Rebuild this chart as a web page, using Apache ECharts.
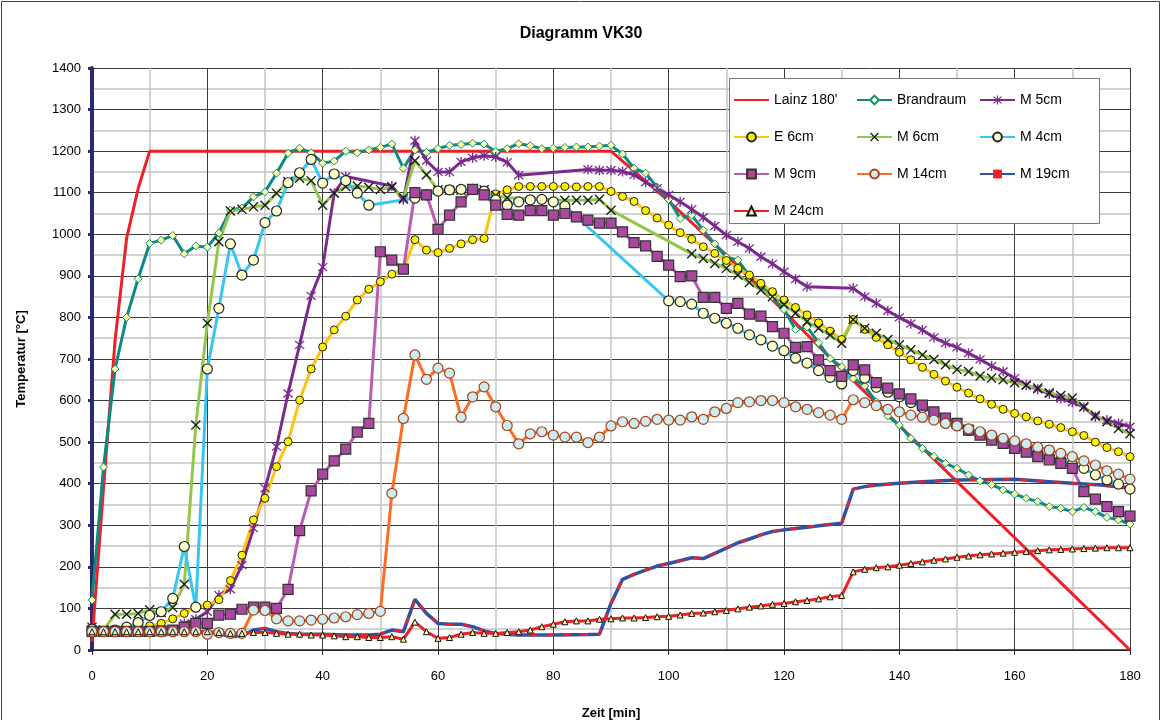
<!DOCTYPE html>
<html>
<head>
<meta charset="utf-8">
<script src="https://cdn.jsdelivr.net/npm/echarts@6/dist/echarts.min.js"></script>
<style>
html,body{margin:0;padding:0;background:#fff;}
#chart{width:1162px;height:720px;}
</style>
</head>
<body>
<div id="chart"></div>
<script>
// ---- data: [minute, °C] ----
const seriesNames = ["Lainz 180'", "Brandraum", "M 5cm", "E 6cm", "M 6cm", "M 4cm", "M 9cm", "M 14cm", "M 19cm", "M 24cm"];
const xTicks = [0, 20, 40, 60, 80, 100, 120, 140, 160, 180];
const yTicks = [0, 100, 200, 300, 400, 500, 600, 700, 800, 900, 1000, 1100, 1200, 1300, 1400];

const lainz = [[0,20],[2,390],[4,745],[6,990],[8,1110],[10,1200],[90,1200],[95,1140],[100,1080],[110,950],[120,815],[130,675],[140,540],[150,405],[160,270],[170,135],[180,0]];

const brandraum = [[0,120],[2,440],[4,676],[6,800],[8,893],[10,978],[12,986],[14,997],[16,953],[18,972],[20,969],[22,1003],[24,1058],[26,1063],[28,1090],[30,1102],[32,1147],[34,1195],[36,1207],[38,1196],[40,1171],[42,1176],[44,1200],[46,1196],[48,1203],[50,1209],[52,1217],[54,1159],[56,1203],[58,1197],[60,1206],[62,1214],[64,1216],[66,1219],[68,1217],[70,1199],[72,1206],[74,1218],[76,1213],[78,1206],[80,1207],[82,1209],[84,1210],[86,1210],[88,1212],[90,1214],[92,1193],[94,1159],[96,1147],[98,1113],[100,1084],[102,1038],[104,1046],[106,1010],[108,977],[110,945],[112,938],[114,900],[116,878],[118,850],[120,819],[122,771],[124,777],[126,739],[128,701],[130,681],[132,653],[134,635],[136,597],[138,563],[140,541],[142,509],[144,485],[146,466],[148,449],[150,437],[152,421],[154,407],[156,398],[158,385],[160,375],[162,365],[164,357],[166,345],[168,341],[170,333],[172,343],[174,333],[176,319],[178,313],[180,303]];

const m5 = [[0,50],[2,45],[4,45],[6,45],[8,45],[10,45],[12,46],[14,48],[16,64],[18,74],[20,92],[22,132],[24,146],[26,204],[28,293],[30,389],[32,489],[34,617],[36,734],[38,852],[40,921],[42,1099],[44,1139],[52,1116],[54,1083],[56,1225],[58,1177],[60,1150],[62,1150],[64,1174],[66,1184],[68,1189],[70,1186],[72,1173],[74,1142],[86,1156],[88,1154],[90,1154],[92,1151],[94,1143],[96,1125],[98,1111],[100,1095],[102,1078],[104,1060],[106,1041],[108,1020],[110,998],[112,982],[114,966],[116,946],[118,929],[120,910],[122,892],[124,874],[132,870],[134,850],[136,834],[138,816],[140,800],[142,785],[144,770],[146,752],[148,738],[150,728],[152,714],[154,699],[156,683],[158,670],[160,654],[162,637],[164,627],[166,616],[168,605],[170,596],[172,584],[174,561],[176,553],[178,545],[180,537]];

const e6 = [[0,45],[2,45],[4,45],[6,45],[8,46],[10,58],[12,64],[14,75],[16,88],[18,104],[20,108],[22,121],[24,167],[26,228],[28,313],[30,365],[32,441],[34,501],[36,601],[38,676],[40,729],[42,770],[44,803],[46,842],[48,868],[50,886],[52,904],[54,916],[56,987],[58,962],[60,956],[62,966],[64,977],[66,987],[68,990],[70,1097],[72,1107],[74,1115],[76,1115],[78,1115],[80,1115],[82,1115],[84,1114],[86,1115],[88,1115],[90,1103],[92,1091],[94,1079],[96,1057],[98,1039],[100,1022],[102,1004],[104,988],[106,970],[108,954],[110,937],[112,918],[114,902],[116,882],[118,862],[120,842],[122,824],[124,806],[126,787],[128,767],[130,747],[132,795],[134,771],[136,752],[138,734],[140,716],[142,698],[144,680],[146,663],[148,647],[150,632],[152,618],[154,604],[156,591],[158,579],[160,569],[162,561],[164,551],[166,543],[168,535],[170,525],[172,516],[174,500],[176,487],[178,477],[180,465]];

const m6 = [[0,55],[2,48],[4,86],[6,86],[8,88],[10,97],[12,90],[14,102],[16,158],[18,541],[20,786],[22,982],[24,1056],[26,1060],[28,1066],[30,1070],[32,1099],[34,1127],[36,1135],[38,1129],[40,1070],[42,1099],[44,1115],[46,1116],[48,1113],[50,1108],[52,1113],[54,1087],[56,1177],[58,1143],[60,1107],[62,1106],[64,1106],[66,1108],[68,1107],[70,1093],[72,1088],[82,1082],[84,1082],[86,1082],[88,1084],[90,1058],[104,953],[106,942],[108,930],[110,918],[112,902],[114,884],[116,866],[118,850],[120,832],[122,810],[124,790],[126,774],[128,758],[130,738],[132,795],[134,774],[136,762],[138,747],[140,734],[142,722],[144,710],[146,699],[148,686],[150,675],[152,670],[154,659],[156,654],[158,650],[160,643],[162,637],[164,630],[166,619],[168,612],[170,606],[172,585],[174,564],[176,549],[178,533],[180,520]];

const m4 = [[0,50],[2,45],[4,48],[6,55],[8,66],[10,83],[12,92],[14,124],[16,249],[18,103],[20,676],[22,822],[24,977],[26,902],[28,938],[30,1028],[32,1056],[34,1124],[36,1148],[38,1180],[40,1123],[42,1145],[44,1129],[46,1099],[48,1070],[56,1087],[58,1095],[60,1104],[62,1107],[64,1108],[66,1108],[68,1104],[70,1083],[72,1070],[74,1078],[76,1083],[78,1084],[80,1078],[82,1068],[100,840],[102,838],[104,832],[106,810],[108,798],[110,786],[112,774],[114,758],[116,746],[118,731],[120,720],[122,702],[124,690],[126,672],[128,656],[130,640],[132,672],[134,654],[136,632],[138,620],[140,609],[142,595],[144,583],[146,568],[148,553],[150,540],[152,528],[154,518],[156,510],[158,505],[160,497],[162,484],[164,474],[166,465],[168,457],[170,447],[172,437],[174,421],[176,409],[178,399],[180,387]];

const m9 = [[0,45],[2,45],[4,45],[6,45],[8,45],[10,45],[12,46],[14,48],[16,55],[18,64],[20,64],[22,84],[24,86],[26,98],[28,103],[30,103],[32,100],[34,146],[36,287],[38,383],[40,423],[42,455],[44,483],[46,524],[48,545],[50,958],[52,938],[54,916],[56,1100],[58,1095],[60,1012],[62,1046],[64,1078],[66,1108],[68,1095],[70,1070],[72,1048],[74,1046],[76,1057],[78,1057],[80,1046],[82,1050],[84,1042],[86,1034],[88,1027],[90,1027],[92,1006],[94,980],[96,972],[98,947],[100,926],[102,898],[104,900],[106,848],[108,848],[110,822],[112,834],[114,808],[116,803],[118,778],[120,762],[122,728],[124,730],[126,698],[128,672],[130,658],[132,686],[134,674],[136,643],[138,630],[140,616],[142,604],[144,589],[146,573],[148,558],[150,545],[152,529],[154,517],[156,505],[158,497],[160,485],[162,476],[164,465],[166,457],[168,449],[170,437],[172,381],[174,363],[176,345],[178,333],[180,322]];

const m14 = [[0,44],[2,44],[4,44],[6,44],[8,44],[10,44],[12,44],[14,44],[16,44],[18,44],[20,38],[22,42],[24,40],[26,40],[28,96],[30,95],[32,75],[34,70],[36,70],[38,72],[40,74],[42,77],[44,80],[46,85],[48,88],[50,93],[52,377],[54,557],[56,710],[58,651],[60,678],[62,666],[64,560],[66,609],[68,633],[70,585],[72,540],[74,496],[76,520],[78,525],[80,517],[82,512],[84,512],[86,499],[88,512],[90,539],[92,549],[94,545],[96,550],[98,555],[100,553],[102,553],[104,561],[106,555],[108,573],[110,581],[112,595],[114,597],[116,600],[118,600],[120,595],[122,585],[124,579],[126,571],[128,565],[130,555],[132,602],[134,595],[136,588],[138,579],[140,573],[142,565],[144,560],[146,553],[148,545],[150,539],[152,532],[154,525],[156,517],[158,509],[160,503],[162,496],[164,488],[166,481],[168,473],[170,465],[172,455],[174,445],[176,431],[178,423],[180,411]];

const m19 = [[0,46],[4,46],[8,46],[12,46],[16,45],[20,44],[22,40],[24,32],[26,34],[28,48],[30,52],[32,44],[34,40],[36,38],[40,38],[44,36],[48,36],[50,38],[52,48],[54,44],[56,122],[58,88],[60,64],[62,62],[64,62],[66,56],[68,46],[70,40],[72,38],[74,36],[80,36],[86,37],[88,38],[90,112],[92,170],[94,182],[96,192],[98,202],[100,208],[104,222],[106,220],[110,245],[112,258],[114,267],[116,277],[118,285],[120,289],[122,292],[124,295],[126,299],[128,302],[130,305],[132,387],[134,393],[136,397],[140,401],[144,405],[150,409],[160,411],[166,405],[170,401],[175,397],[180,389]];

const m24 = [[0,44],[2,44],[4,44],[6,44],[8,44],[10,44],[12,44],[14,44],[16,44],[18,44],[20,44],[22,42],[24,40],[26,40],[28,42],[30,42],[32,40],[34,38],[36,38],[38,36],[40,36],[42,34],[44,32],[46,32],[48,30],[50,30],[52,32],[54,26],[56,67],[58,44],[60,28],[62,30],[64,38],[66,42],[68,40],[70,40],[72,42],[74,44],[76,48],[78,56],[80,62],[82,68],[84,70],[86,70],[88,74],[90,75],[92,77],[94,77],[96,78],[98,80],[100,81],[102,84],[104,88],[106,89],[108,92],[110,95],[112,99],[114,103],[116,106],[118,110],[120,112],[122,116],[124,119],[126,123],[128,128],[130,131],[132,188],[134,194],[136,198],[138,200],[140,204],[142,208],[144,212],[146,216],[148,219],[150,223],[152,226],[154,229],[156,231],[158,233],[160,235],[162,237],[164,239],[166,241],[168,242],[170,243],[172,244],[174,245],[176,246],[178,246],[180,246]];

// ---- styles ----
const FONT = "'Liberation Sans', Arial, sans-serif";
const asteriskPath = 'path://M4.4 0L5.6 0L5.6 10L4.4 10Z M0.6 1.45L1.45 0.6L9.4 8.55L8.55 9.4Z M8.55 0.6L9.4 1.45L1.45 9.4L0.6 8.55Z';
const crossPath = 'path://M0.6 1.45L1.45 0.6L9.4 8.55L8.55 9.4Z M8.55 0.6L9.4 1.45L1.45 9.4L0.6 8.55Z';
const dashPath = 'path://M0 4L10 4L10 6L0 6Z';

function line(name, data, color, width, symbol, size, fill, border, bw, extra) {
  const s = {
    name: name, type: 'line', data: data,
    lineStyle: { color: color, width: width },
    itemStyle: { color: fill, borderColor: border, borderWidth: bw },
    symbol: symbol, symbolSize: size,
    showSymbol: size > 0, showAllSymbol: true,
    connectNulls: true, animation: false, emphasis: { disabled: true }
  };
  return Object.assign(s, extra || {});
}

const RED = '#EE2027';
const series = [
  line(seriesNames[0], lainz, RED, 3, 'circle', 0, RED, RED, 0),
  line(seriesNames[1], brandraum, '#0E8A83', 3, 'diamond', 8, '#FFFFA6', '#0E8A83', 1),
  line(seriesNames[2], m5, '#7A2A8E', 3, asteriskPath, 10, '#7A2A8E', '#7A2A8E', 0),
  line(seriesNames[3], e6, '#FFC20E', 3, 'circle', 8, '#FFF200', '#222', 1),
  line(seriesNames[4], m6, '#92C74B', 3, crossPath, 10, '#1a1a1a', '#1a1a1a', 0),
  line(seriesNames[5], m4, '#35C6F2', 3, 'circle', 10, '#FFFFCC', '#222', 1.2),
  line(seriesNames[6], m9, '#B95CB4', 3, 'rect', 10, '#A8489E', '#333', 1.2),
  line(seriesNames[7], m14, '#FF6B22', 3, 'circle', 10, '#CDEDF1', '#A8401A', 1.2),
  line(seriesNames[8], m19, '#2E52A6', 3.5, dashPath, 0, RED, RED, 0),
  line(seriesNames[8], m19, RED, 2.5, 'none', 0, RED, RED, 0, { lineStyle: { color: RED, width: 2.5, type: [7, 10] }, silent: true }),
  line(seriesNames[9], m24, RED, 3, 'triangle', 6, '#FFF3A0', '#111', 1)
];

const legendCommon = {
  orient: 'vertical', itemWidth: 35, itemHeight: 11, itemGap: 23,
  textStyle: { fontFamily: FONT, fontSize: 14, color: '#000' },
  selectedMode: false, z: 60, top: 93, padding: 0
};

const chart = echarts.init(document.getElementById('chart'), null, { renderer: 'canvas' });
chart.setOption({
  animation: false,
  backgroundColor: '#fff',
  title: {
    text: 'Diagramm VK30', left: 'center', top: 21,
    textStyle: { fontFamily: FONT, fontSize: 16, fontWeight: 'bold', color: '#000' }
  },
  grid: { left: 92, right: 32, top: 68, bottom: 70, containLabel: false, outerBoundsMode: 'none' },
  xAxis: {
    type: 'value', min: 0, max: 180, interval: 20,
    name: 'Zeit [min]', nameLocation: 'middle', nameGap: 57,
    nameTextStyle: { fontFamily: FONT, fontSize: 13, fontWeight: 'bold', color: '#000' },
    axisLine: { show: true, onZero: false, lineStyle: { color: '#222', width: 1.5 } },
    axisTick: { show: true, length: 5, lineStyle: { color: '#222' } },
    axisLabel: { fontFamily: FONT, fontSize: 13, color: '#000', margin: 20,
      formatter: v => xTicks.indexOf(v) >= 0 ? String(v) : '' },
    splitLine: { show: true, lineStyle: { color: '#3c3c3c', width: 1 } },
    minorTick: { show: false, splitNumber: 2 },
    minorSplitLine: { show: true, lineStyle: { color: '#c4c4c4', width: 1.5 } }
  },
  yAxis: {
    type: 'value', min: 0, max: 1400, interval: 100,
    name: 'Temperatur [°C]', nameLocation: 'middle', nameGap: 64,
    nameTextStyle: { fontFamily: FONT, fontSize: 13, fontWeight: 'bold', color: '#000' },
    axisLine: { show: true, lineStyle: { color: '#2B2A70', width: 4 } },
    axisTick: { show: true, length: 4, lineStyle: { color: '#2B2A70', width: 3 } },
    axisLabel: { fontFamily: FONT, fontSize: 13, color: '#000', margin: 11,
      formatter: v => yTicks.indexOf(v) >= 0 ? String(v) : '' },
    splitLine: { show: true, lineStyle: { color: '#3c3c3c', width: 1 } },
    minorTick: { show: false, splitNumber: 2 },
    minorSplitLine: { show: true, lineStyle: { color: '#c4c4c4', width: 1.5 } }
  },
  legend: [
    Object.assign({}, legendCommon, { left: 733, data: [
      { name: seriesNames[0], itemStyle: { opacity: 0 } }, seriesNames[3], seriesNames[6], seriesNames[9]] }),
    Object.assign({}, legendCommon, { left: 856, data: [seriesNames[1], seriesNames[4], seriesNames[7]] }),
    Object.assign({}, legendCommon, { left: 979, data: [seriesNames[2], seriesNames[5], seriesNames[8]] })
  ],
  graphic: [
    { type: 'rect', z: 50, shape: { x: 729.5, y: 78.5, width: 370, height: 145 },
      style: { fill: '#fff', stroke: '#777', lineWidth: 1 } },
    { type: 'rect', z: 100, shape: { x: 1.5, y: 1.5, width: 1158, height: 740 },
      style: { fill: 'none', stroke: '#444', lineWidth: 1 } }
  ],
  series: series
});
</script>
</body>
</html>
